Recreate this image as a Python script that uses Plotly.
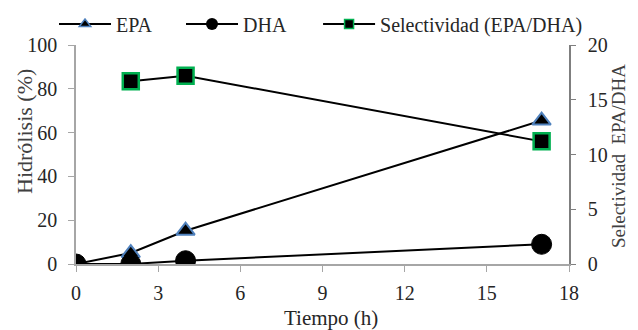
import plotly.graph_objects as go

tiempo = [0, 2, 4, 17]
epa = [0, 5, 15.2, 65.5]
dha = [0, 0, 1.5, 9]
tiempo_sel = [2, 4, 17]
selectividad = [16.7, 17.2, 11.2]

FONT = "Liberation Serif"
TXT = "#262626"
fig = go.Figure()

fig.add_trace(go.Scatter(x=tiempo, y=epa, mode="lines+markers", name="EPA", showlegend=False,
                         line=dict(color="black", width=2),
                         marker=dict(symbol="triangle-up", size=16, color="black",
                                     line=dict(color="#4f81bd", width=2))))
fig.add_trace(go.Scatter(x=tiempo, y=dha, mode="lines+markers", name="DHA", showlegend=False,
                         line=dict(color="black", width=2),
                         marker=dict(symbol="circle", size=20, color="black",
                                     line=dict(color="black", width=1))))
fig.add_trace(go.Scatter(x=tiempo_sel, y=selectividad, mode="lines+markers",
                         name="Selectividad (EPA/DHA)", showlegend=False, yaxis="y2",
                         line=dict(color="black", width=2),
                         marker=dict(symbol="square", size=16, color="black",
                                     line=dict(color="#00b050", width=2.5))))

# legend entries (each in its own legend for exact placement)
fig.add_trace(go.Scatter(x=[None], y=[None], mode="lines+markers", name="EPA", legend="legend",
                         line=dict(color="black", width=2),
                         marker=dict(symbol="triangle-up", size=10, color="black",
                                     line=dict(color="#4f81bd", width=1.5))))
fig.add_trace(go.Scatter(x=[None], y=[None], mode="lines+markers", name="DHA", legend="legend2",
                         line=dict(color="black", width=2),
                         marker=dict(symbol="circle", size=12, color="black")))
fig.add_trace(go.Scatter(x=[None], y=[None], mode="lines+markers", name="Selectividad (EPA/DHA)",
                         legend="legend3",
                         line=dict(color="black", width=2),
                         marker=dict(symbol="square", size=9, color="black",
                                     line=dict(color="#00b050", width=1.5))))

leg_common = dict(orientation="h", xanchor="left", y=1.096, yanchor="middle",
                  font=dict(family=FONT, size=20, color=TXT),
                  bgcolor="rgba(0,0,0,0)", itemwidth=52)

fig.update_layout(
    width=638, height=330,
    margin=dict(l=68, r=77, t=37, b=74, autoexpand=False),
    paper_bgcolor="white", plot_bgcolor="white",
    font=dict(family=FONT, size=20, color=TXT),
    showlegend=True,
    legend=dict(x=-0.0446, **leg_common),
    legend2=dict(x=0.213, **leg_common),
    legend3=dict(x=0.491, **leg_common),
    xaxis=dict(range=[0, 18], tickvals=[0, 3, 6, 9, 12, 15, 18], showgrid=False, zeroline=False,
               showline=True, linecolor="#a6a6a6", linewidth=1.5, ticks="outside", ticklen=6,
               tickcolor="#a6a6a6", tickfont=dict(family=FONT, size=20, color=TXT),
               ticklabelstandoff=4, automargin=False),
    yaxis=dict(range=[0, 100], tickvals=[0, 20, 40, 60, 80, 100], showgrid=False, zeroline=False,
               showline=True, linecolor="#a6a6a6", linewidth=1.5, ticks="outside", ticklen=6,
               tickcolor="#a6a6a6", tickfont=dict(family=FONT, size=20, color=TXT),
               ticklabelstandoff=7, automargin=False),
    yaxis2=dict(range=[0, 20], tickvals=[0, 5, 10, 15, 20], overlaying="y", side="right",
                showgrid=False, zeroline=False, showline=True, linecolor="#7f7f7f", linewidth=1.5,
                ticks="outside", ticklen=5, tickcolor="#7f7f7f",
                tickfont=dict(family=FONT, size=20, color=TXT), ticklabelstandoff=8,
                automargin=False),
    annotations=[
        dict(text="Tiempo (h)", xref="paper", yref="paper", x=0.517, y=-0.246,
             xanchor="center", yanchor="middle", showarrow=False,
             font=dict(family=FONT, size=21, color=TXT)),
        dict(text="Hidrólisis (%)", xref="paper", yref="paper", x=-0.1034, y=0.603,
             xanchor="center", yanchor="middle", showarrow=False, textangle=-90,
             font=dict(family=FONT, size=22, color="#404040")),
        dict(text="Selectividad  EPA/DHA", xref="paper", yref="paper", x=1.0994, y=0.493,
             xanchor="center", yanchor="middle", showarrow=False, textangle=-90,
             font=dict(family=FONT, size=19, color="#404040")),
    ],
)

fig.write_html("out.html")
